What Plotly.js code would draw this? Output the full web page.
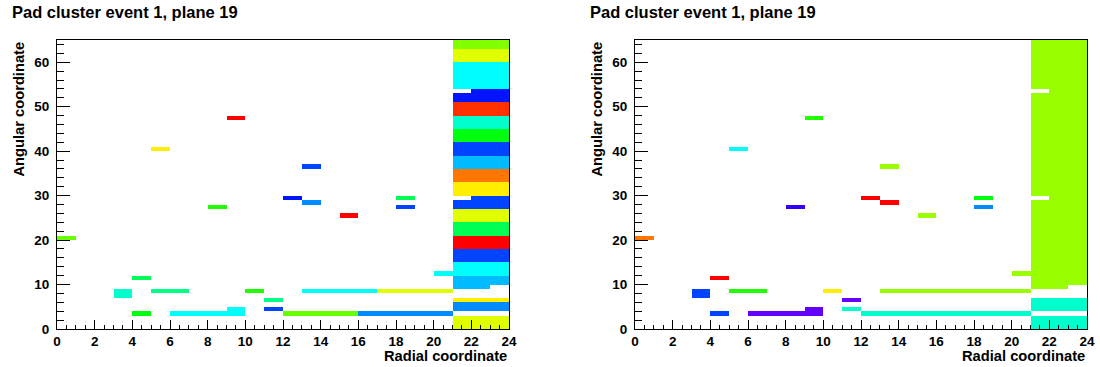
<!DOCTYPE html>
<html><head><meta charset="utf-8">
<script src="https://cdn.plot.ly/plotly-3.0.1.min.js"></script>
<style>html,body{margin:0;padding:0;background:#fff;} #chart{width:1100px;height:367px;}</style>
</head><body><div id="chart"></div>
<script>
// ---- data ----
const panelTitle = "Pad cluster event 1, plane 19";
const xTitle = "Radial coordinate";
const yTitle = "Angular coordinate";
// bin centres (x: 24 radial bins 0..24, y: 65 angular bins 0..65)
const radialCenters = [0.5,1.5,2.5,3.5,4.5,5.5,6.5,7.5,8.5,9.5,10.5,11.5,12.5,13.5,14.5,15.5,16.5,17.5,18.5,19.5,20.5,21.5,22.5,23.5];
const angularCenters = [0.5,1.5,2.5,3.5,4.5,5.5,6.5,7.5,8.5,9.5,10.5,11.5,12.5,13.5,14.5,15.5,16.5,17.5,18.5,19.5,20.5,21.5,22.5,23.5,24.5,25.5,26.5,27.5,28.5,29.5,30.5,31.5,32.5,33.5,34.5,35.5,36.5,37.5,38.5,39.5,40.5,41.5,42.5,43.5,44.5,45.5,46.5,47.5,48.5,49.5,50.5,51.5,52.5,53.5,54.5,55.5,56.5,57.5,58.5,59.5,60.5,61.5,62.5,63.5,64.5];
const xTickVals = [0,2,4,6,8,10,12,14,16,18,20,22,24];
const yTickVals = [0,10,20,30,40,50,60];
// blocks of filled bins: [xBinFrom, xBinTo, yBinFrom, yBinTo, content level 1..50]
const leftCells = [
  [0,0,20,20,33],[4,4,11,11,25],[3,3,7,8,20],[5,6,8,8,23],[4,4,3,3,28],
  [6,9,3,3,18],[9,9,4,4,18],[10,10,8,8,30],[11,11,6,6,23],[11,11,4,4,10],
  [12,15,3,3,33],[16,20,3,3,13],[13,16,8,8,18],[17,20,8,8,38],[20,20,12,12,18],
  [8,8,27,27,30],[5,5,40,40,40],[9,9,47,47,50],[12,12,29,29,8],[13,13,28,28,13],
  [13,13,36,36,10],[15,15,25,25,50],[18,18,29,29,25],[18,18,27,27,10],
  [21,23,63,64,34],[21,23,60,62,38],[21,23,54,59,18],[22,23,53,53,8],[21,23,51,52,8],
  [21,23,48,50,48],[21,23,45,47,20],[21,23,42,44,28],[21,23,39,41,10],[21,23,36,38,15],
  [21,23,33,35,45],[21,23,30,32,40],[22,23,29,29,10],[21,23,27,28,10],[21,23,24,26,38],
  [21,23,21,23,25],[21,23,18,20,50],[21,23,15,17,10],[21,23,12,14,18],[21,23,10,11,15],
  [21,22,9,9,15],[21,23,6,6,40],[21,23,4,5,13],[21,23,0,2,38]
];
const rightCells = [
  [0,0,20,20,45],[4,4,11,11,50],[3,3,7,8,10],[5,6,8,8,30],[4,4,3,3,10],
  [6,9,3,3,3],[9,9,4,4,3],[10,10,8,8,40],[11,11,6,6,3],[11,11,4,4,20],
  [12,20,3,3,20],[13,20,8,8,35],[20,20,12,12,35],[8,8,27,27,5],[5,5,40,40,18],
  [9,9,47,47,30],[12,12,29,29,50],[13,13,28,28,50],[13,13,36,36,35],[15,15,25,25,35],
  [18,18,29,29,28],[18,18,27,27,13],
  [21,23,54,64,35],[22,23,53,53,35],[21,23,30,52,35],[22,23,29,29,35],[21,23,10,28,35],
  [21,22,9,9,35],[21,23,4,6,20],[21,23,0,2,20]
];

// ---- ROOT "pretty" palette (50 colours, HLS hue 280 -> 0) ----
function hueToRgb(h){
  const f = (n)=>{const k=(n+h/30)%12; return 0.5 - 0.5*Math.max(-1, Math.min(k-3, 9-k, 1));};
  return 'rgb('+Math.round(f(0)*255)+','+Math.round(f(8)*255)+','+Math.round(f(4)*255)+')';
}
const palette = [];
for (let k=1;k<=50;k++) palette.push(hueToRgb(280 - k*5.6));
const colorscale = palette.map((c,i)=>[i/49, c]);

function buildZ(cells){
  const z = angularCenters.map(()=>radialCenters.map(()=>null));
  cells.forEach(([x0,x1,y0,y1,v])=>{
    for(let y=y0;y<=y1;y++) for(let x=x0;x<=x1;x++) z[y][x]=v;
  });
  return z;
}

const W=1100, H=367;
const px = v=>v/W, py = v=>1-v/H;
const FONT = 'Liberation Sans, Arial, Helvetica, sans-serif';

function hm(cells, xa, ya){
  return {type:'heatmap', x:radialCenters, y:angularCenters, z:buildZ(cells),
    xaxis:xa, yaxis:ya, colorscale:colorscale, zmin:1, zmax:50, zsmooth:false,
    showscale:false, hoverinfo:'skip'};
}

function xax(domain, anchor){
  return {domain:domain, anchor:anchor, range:[0,24], showline:true, linecolor:'#000', linewidth:1, mirror:true,
    ticks:'inside', ticklen:9, tickwidth:1, tickcolor:'#000', tickmode:'array', tickvals:xTickVals,
    minor:{ticks:'inside', ticklen:4.5, dtick:0.5, tick0:0, tickcolor:'#000', tickwidth:1, showgrid:false},
    showgrid:false, zeroline:false, fixedrange:true,
    tickfont:{family:FONT, size:13.5, color:'#000', weight:'bold'}};
}
function yax(domain, anchor){
  return {domain:domain, anchor:anchor, range:[0,65], showline:true, linecolor:'#000', linewidth:1, mirror:true,
    ticks:'inside', ticklen:13, tickwidth:1, tickcolor:'#000', tickmode:'array', tickvals:yTickVals,
    minor:{ticks:'inside', ticklen:6.5, dtick:2, tick0:0, tickcolor:'#000', tickwidth:1, showgrid:false},
    showgrid:false, zeroline:false, fixedrange:true, ticklabelstandoff:4,
    tickfont:{family:FONT, size:13.5, color:'#000', weight:'bold'}};
}

const panels = [{x0:57, x1:509, tx:10}, {x0:635, x1:1087, tx:588}];
const yDom = [py(329), py(40)];
const annotations = [];
panels.forEach(p=>{
  annotations.push({text:panelTitle, xref:'paper', yref:'paper', x:px(p.tx), y:py(12), xanchor:'left', yanchor:'middle',
    showarrow:false, font:{family:FONT, size:16.5, color:'#000', weight:'bold'}});
  annotations.push({text:xTitle, xref:'paper', yref:'paper', x:px(p.x1), y:py(356), xanchor:'right', yanchor:'middle',
    showarrow:false, font:{family:FONT, size:14.7, color:'#000', weight:'bold'}});
  annotations.push({text:yTitle, xref:'paper', yref:'paper', x:px(p.x0-39), y:py(40), xanchor:'center', yanchor:'top',
    textangle:-90, showarrow:false, font:{family:FONT, size:14.7, color:'#000', weight:'bold'}});
});

const layout = {
  width:W, height:H, margin:{l:0,r:0,t:0,b:0}, paper_bgcolor:'#fff', plot_bgcolor:'#fff', showlegend:false,
  xaxis: xax([px(57),px(509)], 'y'), yaxis: yax(yDom, 'x'),
  xaxis2: xax([px(635),px(1087)], 'y2'), yaxis2: yax(yDom, 'x2'),
  annotations: annotations
};
Plotly.newPlot('chart', [hm(leftCells,'x','y'), hm(rightCells,'x2','y2')], layout, {staticPlot:true, displayModeBar:false});
</script></body></html>
